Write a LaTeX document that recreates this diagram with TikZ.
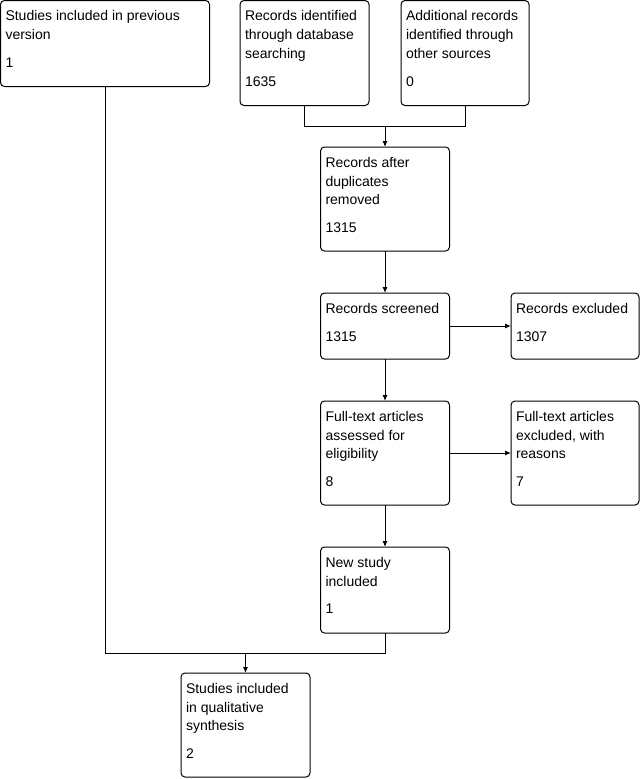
\documentclass[tikz,border=0pt]{standalone}
\usepackage{fontspec}
\setmainfont{Liberation Sans}
\usetikzlibrary{calc,arrows.meta}
\tikzset{
  box/.style={draw=black, line width=1pt, rounded corners=4pt, inner sep=0pt, outer sep=0pt, anchor=north west},
  txt/.style={inner sep=0pt, outer sep=0pt, anchor=north west, align=left, font=\fontsize{14}{18.7}\selectfont},
  conn/.style={draw=black, line width=1pt},
  arr/.style={conn, -{Latex[length=6pt,width=5pt]}}
}
\begin{document}
\begin{tikzpicture}[x=1pt,y=-1pt]
\useasboundingbox[fill=white] (0,0) rectangle (642,779);
% boxes
\node[box, minimum width=209pt, minimum height=86pt] (A) at (0.5,0.5) {};
\node[box, minimum width=129pt, minimum height=105pt] (B) at (240,0.5) {};
\node[box, minimum width=128pt, minimum height=105pt] (C) at (401,0.5) {};
\node[box, minimum width=129pt, minimum height=104pt] (D) at (320.5,147) {};
\node[box, minimum width=129pt, minimum height=66pt] (E) at (320.5,293) {};
\node[box, minimum width=128pt, minimum height=66pt] (F) at (511,293) {};
\node[box, minimum width=129pt, minimum height=104pt] (G) at (320.5,401) {};
\node[box, minimum width=128pt, minimum height=104pt] (H) at (511,401) {};
\node[box, minimum width=129pt, minimum height=86pt] (I) at (320.5,547) {};
\node[box, minimum width=129pt, minimum height=104pt] (J) at (181,673) {};
% texts
\node[txt] (At) at ($(A.north west)+(5,10.3)$) {Studies included in previous\\version\\[9pt]1};
\node[txt] (Bt) at ($(B.north west)+(5,10.3)$) {Records identified\\through database\\searching\\[9pt]1635};
\node[txt] (Ct) at ($(C.north west)+(5,10.3)$) {Additional records\\identified through\\other sources\\[9pt]0};
\node[txt] (Dt) at ($(D.north west)+(5,10.3)$) {Records after\\duplicates\\removed\\[9pt]1315};
\node[txt] (Et) at ($(E.north west)+(5,10.3)$) {Records screened\\[9pt]1315};
\node[txt] (Ft) at ($(F.north west)+(5,10.3)$) {Records excluded\\[9pt]1307};
\node[txt] (Gt) at ($(G.north west)+(5,10.3)$) {Full-text articles\\assessed for\\eligibility\\[9pt]8};
\node[txt] (Ht) at ($(H.north west)+(5,10.3)$) {Full-text articles\\excluded, with\\reasons\\[9pt]7};
\node[txt] (It) at ($(I.north west)+(5,10.3)$) {New study\\included\\[9pt]1};
\node[txt] (Jt) at ($(J.north west)+(5,10.3)$) {Studies included\\in qualitative\\synthesis\\[9pt]2};
% connectors
\coordinate (j1) at (D.north |- 0,126);
\draw[conn] (B.south) |- (j1);
\draw[conn] (C.south) |- (j1);
\draw[arr] (j1) -- (D.north);
\draw[arr] (D.south) -- (E.north);
\draw[arr] (E.east) -- (F.west);
\draw[arr] (E.south) -- (G.north);
\draw[arr] (G.east) -- (H.west);
\draw[arr] (G.south) -- (I.north);
\coordinate (j2) at (J.north |- 0,653);
\draw[conn] (A.south) |- (j2);
\draw[conn] (I.south) |- (j2);
\draw[arr] (j2) -- (J.north);
\end{tikzpicture}
\end{document}
